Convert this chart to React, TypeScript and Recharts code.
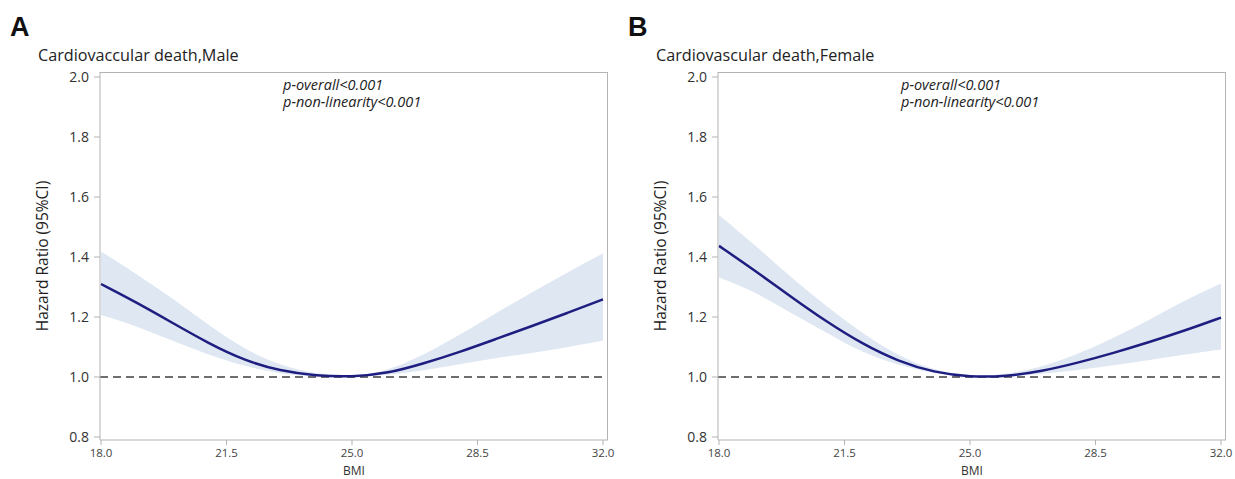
import React from 'react';
import { ComposedChart, Area, Line, XAxis, YAxis, ReferenceLine } from 'recharts';

const bmi = [18, 19, 20, 21, 22, 23, 24, 25, 26, 27, 28, 29, 30, 31, 32];

const maleHR = [1.31, 1.248, 1.18, 1.112, 1.055, 1.02, 1.004, 1.0, 1.012, 1.045, 1.083, 1.126, 1.169, 1.213, 1.259];
const maleLower = [1.207, 1.17, 1.12, 1.074, 1.036, 1.01, 1.001, 1.0, 1.006, 1.022, 1.042, 1.063, 1.08, 1.099, 1.121];
const maleUpper = [1.418, 1.343, 1.262, 1.173, 1.092, 1.038, 1.01, 1.0, 1.02, 1.074, 1.14, 1.212, 1.281, 1.348, 1.412];

const femaleHR = [1.437, 1.355, 1.268, 1.184, 1.11, 1.052, 1.015, 1.0, 1.002, 1.019, 1.047, 1.08, 1.116, 1.155, 1.198];
const femaleLower = [1.332, 1.285, 1.213, 1.148, 1.08, 1.04, 1.01, 1.0, 1.0, 1.01, 1.023, 1.039, 1.056, 1.075, 1.092];
const femaleUpper = [1.54, 1.44, 1.333, 1.235, 1.145, 1.07, 1.022, 1.002, 1.008, 1.033, 1.075, 1.13, 1.19, 1.257, 1.312];

const xTicks = [18, 21.5, 25, 28.5, 32];
const yTicks = [0.8, 1.0, 1.2, 1.4, 1.6, 1.8, 2.0];
const pTexts = ['p-overall<0.001', 'p-non-linearity<0.001'];

const FONT = '"Open Sans", "Noto Sans", sans-serif';
const FRAME = '#b3b3b3';

const build = (hr: number[], lo: number[], hi: number[]) =>
  bmi.map((b, i) => ({ bmi: b, hr: hr[i], band: [lo[i], hi[i]] }));

type PanelProps = {
  letter: string;
  title: string;
  hr: number[];
  lo: number[];
  hi: number[];
};

const Panel: React.FC<PanelProps> = ({ letter, title, hr, lo, hi }) => {
  const data = build(hr, lo, hi);
  return (
    <div style={{ position: 'relative', width: 617, height: 479, fontFamily: FONT }}>
      <div style={{ position: 'absolute', left: 10, top: 12, fontSize: 27, fontWeight: 'bold', fontFamily: '"Liberation Sans", Arial, sans-serif', color: '#111' }}>
        {letter}
      </div>
      <div style={{ position: 'absolute', left: 38, top: 44, fontSize: 16.2, color: '#222', whiteSpace: 'nowrap' }}>
        {title}
      </div>
      <div style={{ position: 'absolute', left: 283, top: 76, fontSize: 14.5, fontStyle: 'italic', color: '#222', lineHeight: '17px', whiteSpace: 'nowrap' }}>
        {pTexts.map((t) => (
          <div key={t}>{t}</div>
        ))}
      </div>
      <ComposedChart
        width={617}
        height={479}
        data={data}
        margin={{ top: 72, right: 9, left: 40, bottom: 0 }}
        style={{ position: 'absolute', left: 0, top: 0 }}
      >
        <XAxis
          dataKey="bmi"
          type="number"
          domain={[18, 32]}
          ticks={xTicks}
          tickFormatter={(v: number) => v.toFixed(1)}
          padding={{ left: 1, right: 5 }}
          height={39}
          stroke={FRAME}
          tickSize={5}
          tick={{ fill: '#444', fontSize: 11.5, fontFamily: FONT, dy: 2 }}
          label={{ value: 'BMI', position: 'insideBottom', offset: 4, fill: '#333', fontSize: 12, fontFamily: FONT }}
        />
        <YAxis
          type="number"
          domain={[0.8, 2.0]}
          ticks={yTicks}
          tickFormatter={(v: number) => v.toFixed(1)}
          padding={{ top: 5, bottom: 3 }}
          width={60}
          stroke={FRAME}
          tickSize={6}
          tick={{ fill: '#333', fontSize: 14, fontFamily: FONT, dx: -3 }}
          label={{ value: 'Hazard Ratio (95%CI)', angle: -90, position: 'insideLeft', offset: 2, style: { textAnchor: 'middle' }, fill: '#222', fontSize: 15.5, fontFamily: FONT }}
        />
        <Area dataKey="band" type="basis" stroke="none" fill="#dfe7f2" fillOpacity={1} isAnimationActive={false} />
        <ReferenceLine y={1} stroke="#6e6e6e" strokeWidth={2} strokeDasharray="8 5" />
        <Line dataKey="hr" type="basis" stroke="#1e1e80" strokeWidth={2.5} dot={false} activeDot={false} isAnimationActive={false} />
      </ComposedChart>
      <div
        style={{
          position: 'absolute',
          left: 100,
          top: 72,
          width: 508,
          height: 368,
          borderTop: `1px solid ${FRAME}`,
          borderRight: `1px solid ${FRAME}`,
          boxSizing: 'border-box',
          pointerEvents: 'none',
        }}
      />
    </div>
  );
};

export default function App() {
  return (
    <div style={{ position: 'absolute', left: 0, top: 0, width: 1235, height: 479, background: '#fff', display: 'flex' }}>
      <Panel letter="A" title="Cardiovaccular death,Male" hr={maleHR} lo={maleLower} hi={maleUpper} />
      <div style={{ width: 1 }} />
      <Panel letter="B" title="Cardiovascular death,Female" hr={femaleHR} lo={femaleLower} hi={femaleUpper} />
    </div>
  );
}
